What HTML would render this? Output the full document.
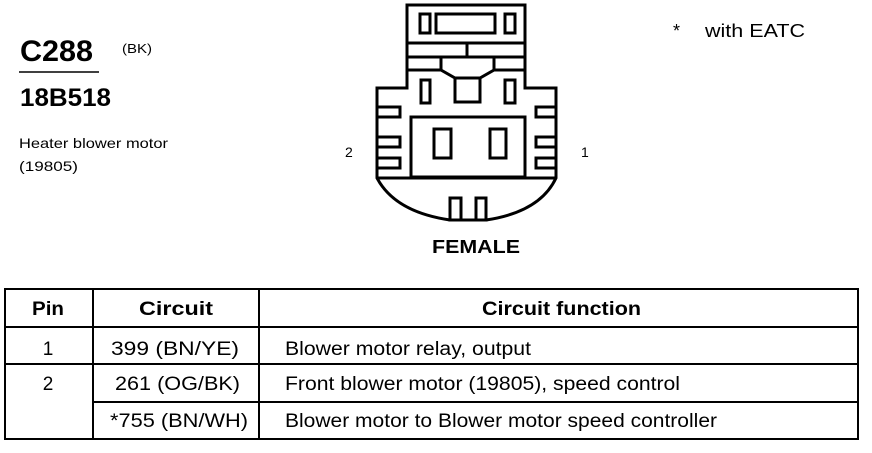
<!DOCTYPE html>
<html><head><style>
body{margin:0;background:#fff;}
svg text{font-family:"Liberation Sans",Arial,sans-serif;fill:#000;}
</style></head><body>
<svg width="872" height="448" viewBox="0 0 872 448" xmlns="http://www.w3.org/2000/svg">
<text x="20" y="61" font-size="30" font-weight="bold" textLength="73" lengthAdjust="spacingAndGlyphs">C288</text>
<line x1="19" y1="72" x2="99" y2="72" stroke="#000" stroke-width="1.5"/>
<text x="122" y="53" font-size="13" textLength="30" lengthAdjust="spacingAndGlyphs">(BK)</text>
<text x="20" y="106" font-size="25" font-weight="bold" textLength="91" lengthAdjust="spacingAndGlyphs">18B518</text>
<text x="19" y="148" font-size="14" textLength="149" lengthAdjust="spacingAndGlyphs">Heater blower motor</text>
<text x="19" y="171" font-size="14" textLength="59" lengthAdjust="spacingAndGlyphs">(19805)</text>
<text x="673" y="37" font-size="18">*</text>
<text x="705" y="37" font-size="18" textLength="100" lengthAdjust="spacingAndGlyphs">with EATC</text>
<text x="345" y="157" font-size="14">2</text>
<text x="581" y="157" font-size="14">1</text>
<text x="432" y="253" font-size="18" font-weight="bold" textLength="88" lengthAdjust="spacingAndGlyphs">FEMALE</text>
<g fill="none" stroke="#000" stroke-width="3">
<path d="M407 88 V5 H525 V88 H556 V178 Q540 212 486 220 H450 Q395 212 377 178 V88 Z"/>
<line x1="377" y1="178" x2="556" y2="178"/>
<rect x="436" y="14" width="59" height="19"/>
<rect x="420" y="14" width="10" height="19"/>
<rect x="505" y="14" width="10" height="19"/>
<line x1="407" y1="43" x2="525" y2="43"/>
<line x1="407" y1="57" x2="525" y2="57"/>
<line x1="467" y1="43" x2="467" y2="57"/>
<line x1="407" y1="70" x2="441" y2="70"/>
<line x1="494" y1="70" x2="525" y2="70"/>
<path d="M441 57 V70 L455 78 H480 L494 70 V57"/>
<rect x="455" y="78" width="25" height="24"/>
<rect x="421" y="80" width="9" height="23"/>
<rect x="505" y="80" width="10" height="23"/>
<rect x="411" y="117" width="114" height="60"/>
<rect x="434" y="129" width="17" height="29"/>
<rect x="490" y="129" width="16" height="29"/>
<rect x="377" y="107" width="23" height="10"/>
<rect x="377" y="137" width="23" height="10"/>
<rect x="377" y="158" width="23" height="10"/>
<rect x="536" y="107" width="20" height="10"/>
<rect x="536" y="137" width="20" height="10"/>
<rect x="536" y="158" width="20" height="10"/>
<rect x="450" y="198" width="11" height="22"/>
<rect x="476" y="198" width="10" height="22"/>
</g>
<g stroke="#000" stroke-width="2" fill="none">
<rect x="5" y="289" width="853" height="150"/>
<line x1="5" y1="327" x2="858" y2="327"/>
<line x1="5" y1="364" x2="858" y2="364"/>
<line x1="93" y1="402" x2="858" y2="402"/>
<line x1="93" y1="289" x2="93" y2="439"/>
<line x1="259" y1="289" x2="259" y2="439"/>
</g>
<g font-size="19">
<text x="32" y="315" font-weight="bold" textLength="32" lengthAdjust="spacingAndGlyphs">Pin</text>
<text x="139" y="315" font-weight="bold" textLength="74" lengthAdjust="spacingAndGlyphs">Circuit</text>
<text x="482" y="315" font-weight="bold" textLength="159" lengthAdjust="spacingAndGlyphs">Circuit function</text>
<text x="48" y="355" text-anchor="middle">1</text>
<text x="111" y="355" textLength="128" lengthAdjust="spacingAndGlyphs">399 (BN/YE)</text>
<text x="285" y="355" textLength="246" lengthAdjust="spacingAndGlyphs">Blower motor relay, output</text>
<text x="48" y="390" text-anchor="middle">2</text>
<text x="115" y="390" textLength="125" lengthAdjust="spacingAndGlyphs">261 (OG/BK)</text>
<text x="285" y="390" textLength="395" lengthAdjust="spacingAndGlyphs">Front blower motor (19805), speed control</text>
<text x="110" y="427" textLength="138" lengthAdjust="spacingAndGlyphs">*755 (BN/WH)</text>
<text x="285" y="427" textLength="432" lengthAdjust="spacingAndGlyphs">Blower motor to Blower motor speed controller</text>
</g>
</svg>
</body></html>
